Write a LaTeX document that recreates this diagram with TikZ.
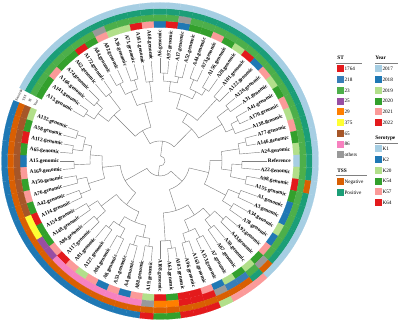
\documentclass[tikz,border=0pt]{standalone}
\usepackage{fontspec}
\setmainfont{Liberation Serif}
\usepackage{tikz}

% palettes
\definecolor{yr17}{HTML}{A6CEE3}
\definecolor{yr18}{HTML}{1F78B4}
\definecolor{yr19}{HTML}{B2DF8A}
\definecolor{yr20}{HTML}{33A02C}
\definecolor{yr21}{HTML}{FB9A99}
\definecolor{yr22}{HTML}{E31A1C}
\colorlet{seK1}{yr17}
\colorlet{seK2}{yr18}
\colorlet{seK20}{yr19}
\colorlet{seK54}{yr20}
\colorlet{seK57}{yr21}
\colorlet{seK64}{yr22}
\definecolor{st1764}{HTML}{E41A1C}
\definecolor{st218}{HTML}{377EB8}
\definecolor{st23}{HTML}{4DAF4A}
\definecolor{st25}{HTML}{984EA3}
\definecolor{st29}{HTML}{FF7F00}
\definecolor{st375}{HTML}{FFFF33}
\definecolor{st65}{HTML}{A65628}
\definecolor{st86}{HTML}{F781BF}
\definecolor{stOth}{HTML}{999999}
\definecolor{tssNeg}{HTML}{D95F02}
\definecolor{tssPos}{HTML}{1B9E77}
\definecolor{branchgray}{HTML}{808080}

\tikzset{
  branch/.style={draw=branchgray, line width=0.3pt},
  leaf/.style={font=\fontsize{3.8}{4}\selectfont\bfseries, inner sep=0.4pt},
  keybox/.style={minimum size=0.175cm, inner sep=0pt},
  keytext/.style={font=\fontsize{3.7}{4}\selectfont, inner sep=0pt, anchor=west},
  keytitle/.style={font=\fontsize{3.8}{4}\selectfont\bfseries, inner sep=0pt, anchor=west},
  ringname/.style={font=\fontsize{2.5}{3}\selectfont, inner sep=0pt}
}

% one cell of a ring: colour, leaf angle, inner radius, outer radius
\newcommand{\ringcell}[4]{%
  \filldraw[fill=#1, draw=#1, line width=0.1pt] ({#2+2.5}:#3)
    arc[start angle={#2+2.5}, end angle={#2-2.5}, radius=#3]
    -- ({#2-2.5}:#4) arc[start angle={#2-2.5}, end angle={#2+2.5}, radius=#4] -- cycle;}

\begin{document}
\begin{tikzpicture}[scale=0.025]
\useasboundingbox (0,0) rectangle (400,321);

\begin{scope}[shift={(160,160)}]
% leaves and rings
\foreach \i/\lab/\yr/\st/\ts/\se/\rp in {
  0/A13.genomic/yr20/st23/tssPos/seK1/88,
  1/A141.genomic/yr20/st23/tssPos/seK1/88,
  2/A166.genomic/yr21/st23/tssPos/seK1/86,
  3/A74.genomic/yr20/st23/tssPos/seK1/86,
  4/A62.genomic/yr20/st23/tssPos/seK1/84,
  5/A172.genomic/yr22/st23/tssPos/seK1/84,
  6/A84.genomic/yr20/st23/tssPos/seK1/87,
  7/A82.genomic/yr21/stOth/tssPos/seK1/87,
  8/A36.genomic/yr19/st23/tssPos/seK1/85,
  9/A71.genomic/yr19/st23/tssPos/seK1/85,
  10/A161.genomic/yr22/st23/tssPos/seK1/80,
  11/A68.genomic/yr21/st23/tssPos/seK1/80,
  12/A6.genomic/yr18/st23/tssPos/seK1/88,
  13/A97.genomic/yr22/st23/tssPos/seK1/88,
  14/A17.genomic/yr18/stOth/tssPos/seK1/86,
  15/A52.genomic/yr20/st23/tssPos/seK1/86,
  16/A44.genomic/yr20/st23/tssPos/seK1/88,
  17/A73.genomic/yr21/st23/tssPos/seK1/88,
  18/A156.genomic/yr20/st23/tssPos/seK1/85,
  19/A28.genomic/yr19/st23/tssPos/seK1/85,
  20/A101.genomic/yr22/st23/tssPos/seK1/84,
  21/A122.genomic/yr18/st23/tssPos/seK1/84,
  22/A126.genomic/yr21/st23/tssPos/seK1/86,
  23/A31.genomic/yr19/st23/tssPos/seK1/86,
  24/A41.genomic/yr20/st23/tssPos/seK1/88,
  25/A170.genomic/yr21/st23/tssPos/seK1/88,
  26/A138.genomic/yr19/st23/tssPos/seK1/80,
  27/A77.genomic/yr21/st23/tssPos/seK1/88,
  28/A146.genomic/yr20/st23/tssPos/seK1/88,
  29/A24.genomic/yr19/st23/tssPos/seK1/80,
  30/Reference/yr17/st23/tssPos/seK1/82,
  31/A22.genomic/yr19/st23/tssPos/seK1/82,
  32/A98.genomic/yr22/st23/tssNeg/seK1/88,
  33/A155.genomic/yr20/st23/tssPos/seK1/88,
  34/A1.genomic/yr18/st23/tssPos/seK1/86,
  35/A3.genomic/yr18/st23/tssPos/seK1/86,
  36/A34.genomic/yr19/st23/tssPos/seK1/85,
  37/A78.genomic/yr18/st23/tssPos/seK1/85,
  38/A92.genomic/yr21/st23/tssPos/seK1/86,
  39/A43.genomic/yr20/stOth/tssNeg/seK1/86,
  40/A30.genomic/yr19/st23/tssPos/seK57/84,
  41/A67.genomic/yr20/st218/tssNeg/seK57/84,
  42/A7.genomic/yr19/st218/tssNeg/seK57/86,
  43/A153.genomic/yr18/stOth/tssNeg/seK20/86,
  44/A163.genomic/yr21/st1764/tssNeg/seK64/85,
  45/A96.genomic/yr22/st1764/tssNeg/seK64/85,
  46/A107.genomic/yr22/st1764/tssNeg/seK64/88,
  47/A63.genomic/yr20/st29/tssNeg/seK54/88,
  48/A108.genomic/yr22/st29/tssNeg/seK54/80,
  49/A19.genomic/yr19/stOth/tssNeg/seK64/86,
  50/A88.genomic/yr21/st86/tssNeg/seK2/86,
  51/A4.genomic/yr18/st86/tssNeg/seK2/88,
  52/A53.genomic/yr21/st86/tssNeg/seK2/88,
  53/A8.genomic/yr18/st86/tssNeg/seK2/86,
  54/A94.genomic/yr21/st86/tssNeg/seK2/86,
  55/A127.genomic/yr19/st86/tssNeg/seK2/84,
  56/A81.genomic/yr21/st86/tssNeg/seK2/84,
  57/A117.genomic/yr22/st86/tssNeg/seK2/86,
  58/A86.genomic/yr21/st25/tssNeg/seK2/86,
  59/A148.genomic/yr20/st25/tssNeg/seK2/85,
  60/A154.genomic/yr20/st375/tssNeg/seK2/85,
  61/A114.genomic/yr22/st375/tssNeg/seK2/86,
  62/A42.genomic/yr20/st65/tssNeg/seK2/86,
  63/A76.genomic/yr21/st65/tssNeg/seK2/85,
  64/A150.genomic/yr20/st65/tssNeg/seK2/85,
  65/A169.genomic/yr21/st65/tssNeg/seK2/86,
  66/A15.genomic/yr18/st65/tssNeg/seK2/86,
  67/A65.genomic/yr20/st65/tssNeg/seK2/88,
  68/A112.genomic/yr22/st65/tssNeg/seK2/88,
  69/A58.genomic/yr20/st65/tssNeg/seK2/87,
  70/A132.genomic/yr19/st65/tssNeg/seK2/87}
{
  \pgfmathsetmacro\ang{150-5*\i}
  \pgfmathtruncatemacro\side{(\ang>-90.5)*(\ang<90.5)}
  \ringcell{\yr}{\ang}{133.5}{140}
  \ringcell{\st}{\ang}{140}{146.5}
  \ringcell{\ts}{\ang}{146.5}{152.5}
  \ringcell{\se}{\ang}{152.5}{158.5}
  \ifnum\side=1
    \node[leaf, anchor=east, rotate=\ang] (L\i) at (\ang:131.5) {\lab};
    \draw[branch] (\ang:\rp) -- (L\i.west);
  \else
    \node[leaf, anchor=west, rotate=\ang+180] (L\i) at (\ang:131.5) {\lab};
    \draw[branch] (\ang:\rp) -- (L\i.east);
  \fi
}

% inner clades: first child angle / last child angle / radius / parent radius
\foreach \a/\b/\r/\p in {
  150/145/88/78, 140/135/86/78, 147.5/137.5/78/65, 130/125/84/65,
  142.5/127.5/65/35, 120/115/87/75, 110/105/85/75, 117.5/107.5/75/60,
  100/95/80/60, 112.5/97.5/60/35, 135/105/35/20,
  90/85/88/80, 80/75/86/80, 87.5/77.5/80/70, 70/65/88/78, 60/55/85/78,
  67.5/57.5/78/70, 82.5/62.5/70/55, 50/45/84/55, 72.5/47.5/55/45,
  40/35/86/72, 30/25/88/80, 27.5/20/80/72, 37.5/23.75/72/45,
  60/30.625/45/20, 120/45.3125/20/5,
  15/10/88/80, 12.5/5/80/62, 0/-5/82/72, -10/-15/88/72, -2.5/-12.5/72/62,
  8.75/-7.5/62/50, -20/-25/86/74, -30/-35/85/74, -22.5/-32.5/74/50,
  0.625/-27.5/50/30,
  -40/-45/86/74, -50/-55/84/74, -42.5/-52.5/74/64, -60/-65/86/76,
  -70/-75/85/76, -62.5/-72.5/76/64, -47.5/-67.5/64/52, -80/-85/88/80,
  -82.5/-90/80/52, -57.5/-86.25/52/30, -13.4375/-71.875/30/15,
  -95/-100/86/78, -105/-110/88/78, -97.5/-107.5/78/66, -115/-120/86/76,
  -125/-130/84/76, -117.5/-127.5/76/66, -102.5/-122.5/66/55,
  -135/-140/86/74, -145/-150/85/74, -137.5/-147.5/74/55,
  -112.5/-142.5/55/40, -155/-160/86/75, -165/-170/85/75,
  -157.5/-167.5/75/58, -175/-180/86/70, -185/-190/88/78, -195/-200/87/78,
  -187.5/-197.5/78/70, -177.5/-192.5/70/58, -162.5/-185/58/40,
  -127.5/-173.75/40/15, -42.65625/-150.625/15/5, 82.65625/-96.65625/5/5}
{
  \pgfmathsetmacro\m{(\a+\b)/2}
  \draw[branch] (\a:\r) arc[start angle=\a, end angle=\b, radius=\r];
  \draw[branch] (\m:\p) -- (\m:\r);
}

% ring names in the gap
\node[ringname, rotate=65] (nYear) at (155:136.75) {Year};
\node[ringname, rotate=65] (nST) at (155:143.25) {ST};
\node[ringname, rotate=65] (nTSS) at (155:149.5) {TSS};
\node[ringname, rotate=65] (nSero) at (155:155.5) {Serotype};
\end{scope}

% legend: ST
\node[keytitle] (tST) at (337,263) {ST};
\draw[branchgray, line width=0.2pt] (336,258.3) -- (362,258.3);
\foreach \k/\c/\t in {0/st1764/1764, 1/st218/218, 2/st23/23, 3/st25/25,
  4/st29/29, 5/st375/375, 6/st65/65, 7/st86/86, 8/stOth/others}
{
  \node[keybox, fill=\c] (kst\k) at (340.5,252-10.75*\k) {};
  \node[keytext] (lst\k) at ([xshift=0.075cm]kst\k.east) {\t};
}
% legend: TSS
\node[keytitle] (tTSS) at (337,150) {TSS};
\draw[branchgray, line width=0.2pt] (336,146) -- (367,146);
\foreach \k/\c/\t in {0/tssNeg/Negative, 1/tssPos/Positive}
{
  \node[keybox, fill=\c] (kts\k) at (340.5,139-10.75*\k) {};
  \node[keytext] (lts\k) at ([xshift=0.075cm]kts\k.east) {\t};
}
% legend: Year
\node[keytitle] (tYear) at (375,263) {Year};
\draw[branchgray, line width=0.2pt] (375,258.3) -- (398,258.3);
\foreach \k/\c/\t in {0/yr17/2017, 1/yr18/2018, 2/yr19/2019, 3/yr20/2020,
  4/yr21/2021, 5/yr22/2022}
{
  \node[keybox, fill=\c] (kyr\k) at (378.5,252-10.75*\k) {};
  \node[keytext] (lyr\k) at ([xshift=0.075cm]kyr\k.east) {\t};
}
% legend: Serotype
\node[keytitle] (tSero) at (375,183) {Serotype};
\draw[branchgray, line width=0.2pt] (375,178) -- (398,178);
\foreach \k/\c/\t in {0/seK1/K1, 1/seK2/K2, 2/seK20/K20, 3/seK54/K54,
  4/seK57/K57, 5/seK64/K64}
{
  \node[keybox, fill=\c] (kse\k) at (378.5,172-10.75*\k) {};
  \node[keytext] (lse\k) at ([xshift=0.075cm]kse\k.east) {\t};
}
\end{tikzpicture}
\end{document}
